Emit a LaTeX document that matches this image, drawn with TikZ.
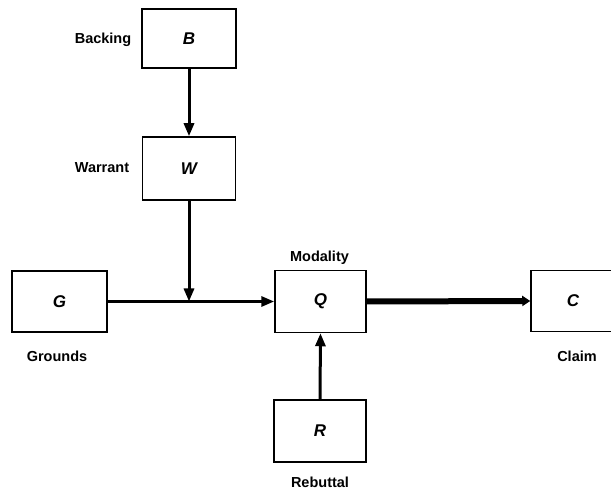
\documentclass[tikz,border=0pt]{standalone}
\usepackage{fontspec}
\setmainfont{Liberation Sans}
\usetikzlibrary{arrows.meta}
\begin{document}
\begin{tikzpicture}[x=1pt,y=-1pt,
  box/.style={draw,line width=1.5pt,inner sep=0pt,font=\fontsize{17}{17}\selectfont\bfseries\itshape},
  lbl/.style={inner sep=0pt,font=\fontsize{14.5}{15}\selectfont\bfseries},
  arr/.style={line width=3pt,-{Triangle[length=13pt,width=10pt]}},
  bigarr/.style={line width=6pt,-{Triangle[length=8pt,width=10pt]}}]
\useasboundingbox[fill=white] (0,0) rectangle (611,489);
% the six statement boxes
\node[box,minimum width=94pt,minimum height=59pt] (B) at (189,38.5) {B};
\node[box,minimum width=93pt,minimum height=63pt] (W) at (189,168.5) {W};
\node[box,minimum width=95pt,minimum height=61pt] (G) at (59.5,301.5) {G};
\node[box,minimum width=91pt,minimum height=62pt] (Q) at (320.5,301.5) {Q};
\node[box,minimum width=84pt,minimum height=61pt] (C) at (573,301) {C};
\node[box,minimum width=92pt,minimum height=62pt] (R) at (320,431) {R};
% their names
\node[lbl] (lB) at (103,40) {Backing};
\node[lbl] (lW) at (102,168) {Warrant};
\node[lbl] (lQ) at (319.5,258) {Modality};
\node[lbl] (lG) at (57,356) {Grounds};
\node[lbl] (lC) at (577,356) {Claim};
\node[lbl] (lR) at (320,482) {Rebuttal};
% where the warrant meets the grounds line
\coordinate (J) at (W.south |- G.east);
% connectors
\draw[arr] (B.south) -- (W.north);
\draw[arr] (W.south) -- (J);
\draw[arr] (G.east) -- (Q.west);
\draw[arr] (R.north) -- (Q.south);
\draw[bigarr] (Q.east) -- (C.west);
\end{tikzpicture}
\end{document}
